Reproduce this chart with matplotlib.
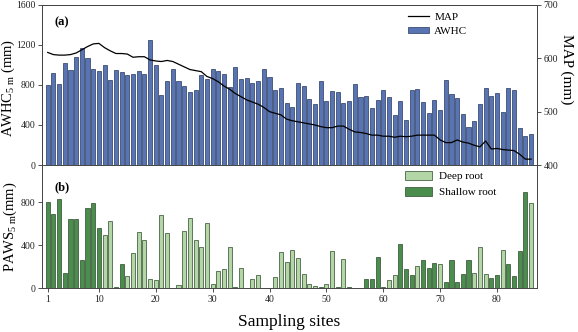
import numpy as np
import matplotlib
matplotlib.use("Agg")
import matplotlib.pyplot as plt
from matplotlib.patches import Patch
from matplotlib.lines import Line2D

plt.rcParams["font.family"] = ["Liberation Serif", "DejaVu Serif"]
plt.rcParams["mathtext.fontset"] = "custom"
plt.rcParams["mathtext.rm"] = "Liberation Serif"
plt.rcParams["mathtext.it"] = "Liberation Serif:italic"

sites = np.arange(1, 87)

# available water holding capacity, 5 m (mm)
awhc = [800, 920, 810, 1020, 950, 1080, 1170, 1070, 960, 940,
        1000, 850, 950, 925, 900, 910, 940, 905, 1250, 1000,
        700, 840, 960, 840, 790, 730, 750, 900, 860, 960,
        940, 910, 780, 980, 860, 865, 815, 840, 960, 880,
        750, 767, 623, 583, 823, 790, 657, 613, 840, 640,
        743, 733, 617, 640, 810, 683, 693, 570, 650, 753,
        683, 500, 640, 450, 750, 760, 633, 520, 647, 553,
        850, 710, 673, 510, 377, 443, 610, 767, 693, 723,
        533, 770, 750, 370, 293, 307]

# mean annual precipitation (mm)
map_mm = [611, 607, 606, 606, 607, 610, 616, 622, 627, 628,
          620, 614, 609, 609, 608, 602, 603, 603, 597, 595,
          594, 596, 594, 589, 584, 579, 577, 575, 566, 562,
          556, 548, 542, 534, 528, 522, 518, 514, 508, 500,
          497, 494, 486, 483, 481, 479, 477, 475, 472, 470,
          470, 473, 473, 467, 462, 461, 459, 456, 456, 454,
          454, 452, 454, 453, 454, 456, 456, 456, 456, 447,
          442, 442, 447, 443, 441, 437, 434, 445, 430, 431,
          429, 428, 427, 420, 411, 411]

# plant available water storage, 5 m (mm)
paws = [800, 694, 834, 143, 644, 644, 265, 747, 794, 557,
        498, 623, 6, 224, 112, 330, 526, 445, 81, 75,
        682, 511, 0, 25, 530, 657, 445, 386, 604, 40,
        159, 174, 383, 9, 187, 0, 81, 118, 0, 0,
        103, 340, 243, 358, 283, 134, 37, 19, 9, 34,
        349, 9, 274, 6, 0, 0, 87, 87, 286, 9,
        75, 118, 411, 177, 125, 205, 265, 187, 233, 227,
        59, 261, 53, 128, 258, 140, 386, 131, 93, 125,
        352, 224, 115, 346, 893, 797]

# D = deep root, S = shallow root
root = list("SSSSSSSSSS" "DDSSDDDDDD" "DDDDDDDDDD" "DDDSDDDDDD"
            "DDDDDDDDSD" "DSDSDDSSSS" "DDSSSDSSSD" "SSSSSDDDSS"
            "DSSSSD")

blue = "#5874b2"
blue_edge = "#27375f"
light_green = "#b4d6a6"
dark_green = "#4a8d4c"
green_edge = "#2c4a2c"

fig = plt.figure(figsize=(5.78, 3.32), dpi=100)
ax1 = fig.add_axes([0.0727, 0.503, 0.856, 0.482])
ax3 = fig.add_axes([0.0727, 0.1325, 0.856, 0.3705])

# (a) AWHC bars + MAP line
ax1.bar(sites, awhc, width=0.72, color=blue, edgecolor=blue_edge, linewidth=0.5)
ax1.set_ylim(0, 1600)
ax1.set_yticks([0, 400, 800, 1200, 1600])
ax1.set_xlim(0, 87)
ax1.set_xticks([])
ax1.set_ylabel(r"AWHC$_{\mathrm{5\ m}}$ (mm)", fontsize=10.5, va="center")
ax1.yaxis.set_label_coords(-0.069, 0.48)

ax2 = ax1.twinx()
ax2.plot(sites, map_mm, color="black", linewidth=0.9)
ax2.set_ylim(400, 700)
ax2.set_yticks([400, 500, 600, 700])
ax2.set_ylabel("MAP (mm)", fontsize=11, rotation=270, va="center")
ax2.yaxis.set_label_coords(1.06, 0.6)

ax1.text(0.025, 0.93, "(a)", transform=ax1.transAxes, fontsize=9,
         fontweight="bold", va="top")
ax1.legend(handles=[Line2D([], [], color="black", linewidth=0.9),
                    Patch(facecolor=blue, edgecolor=blue_edge, linewidth=0.5)],
           labels=["MAP", "AWHC"], loc="upper left",
           bbox_to_anchor=(0.73, 0.98), frameon=False, fontsize=8,
           handlelength=1.9, handleheight=0.5, labelspacing=0.45,
           handletextpad=0.5, borderaxespad=0)

# (b) PAWS bars by rooting depth
colors = [light_green if r == "D" else dark_green for r in root]
ax3.bar(sites, paws, width=0.72, color=colors, edgecolor=green_edge, linewidth=0.5)
ax3.set_ylim(0, 1150)
ax3.set_yticks([0, 400, 800])
ax3.set_xlim(0, 87)
ax3.set_xticks([1, 10, 20, 30, 40, 50, 60, 70, 80])
ax3.set_xlabel("Sampling sites", fontsize=12.5, labelpad=7)
ax3.set_ylabel(r"PAWS$_{\mathrm{5\ m}}$(mm)", fontsize=10.5, va="center")
ax3.yaxis.set_label_coords(-0.064, 0.5)
ax3.spines["top"].set_visible(False)
ax3.text(0.025, 0.87, "(b)", transform=ax3.transAxes, fontsize=9,
         fontweight="bold", va="top")
ax3.legend(handles=[Patch(facecolor=light_green, edgecolor=green_edge, linewidth=0.5),
                    Patch(facecolor=dark_green, edgecolor=green_edge, linewidth=0.5)],
           labels=["Deep root", "Shallow root"], loc="upper left",
           bbox_to_anchor=(0.725, 0.99), frameon=False, fontsize=8,
           handlelength=2.4, handleheight=0.9, labelspacing=0.5,
           handletextpad=0.6, borderaxespad=0)

for ax in (ax1, ax2, ax3):
    ax.tick_params(direction="out", length=3, width=0.6, labelsize=7,
                   pad=2, colors="#333333", labelcolor="#222222")
    for s in ax.spines.values():
        s.set_linewidth(0.7)
        s.set_color("#444444")

fig.savefig("out.png", dpi=100)
